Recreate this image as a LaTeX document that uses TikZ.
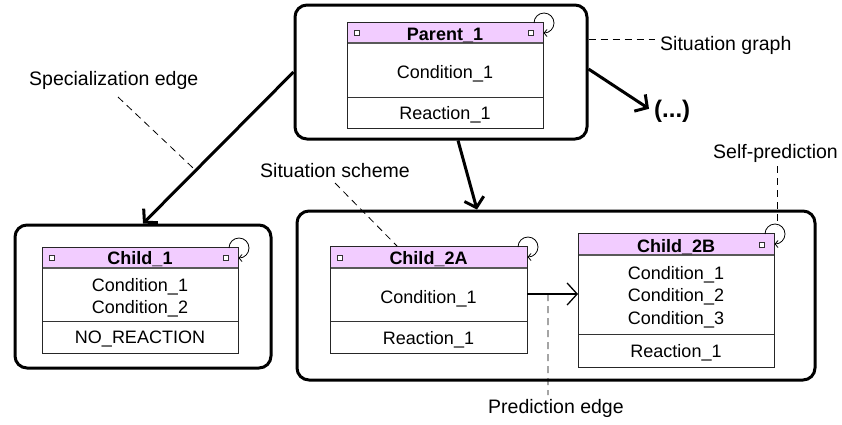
\documentclass[tikz,border=0pt]{standalone}
\usepackage{fontspec}
\setmainfont{Liberation Sans}
\usetikzlibrary{arrows.meta,fit}

\definecolor{headpink}{RGB}{242,204,255}

% one situation scheme: name, left, top, right, bottom, header bottom, divider
\newcommand\schemebox[7]{%
  \fill[headpink] (#2,#3) rectangle (#4,#6);
  \draw[headrule] (#2,#6) -- (#4,#6);
  \draw[secrule] (#2,#7) -- (#4,#7);
  \node[schemeframe, fit={(#2,#3) (#4,#5)}] (#1) {};
}

\tikzset{
  outerbox/.style={draw, line width=3pt, rounded corners=12pt, inner sep=0pt},
  schemeframe/.style={draw=black!85, line width=0.9pt, inner sep=0pt, outer sep=0pt},
  headrule/.style={draw=black!65, line width=1.3pt},
  secrule/.style={draw=black!80, line width=0.9pt},
  port/.style={draw=black!80, fill=white, line width=0.7pt, minimum size=4.5pt, inner sep=0pt},
  bigarrow/.style={line width=3pt, -{Straight Barb[length=9pt,width=20pt]}},
  predarrow/.style={line width=1.3pt, -{Straight Barb[length=10pt,width=22pt]}},
  loopline/.style={line width=0.8pt, -{Straight Barb[length=3pt,width=7pt]}},
  leader/.style={line width=0.8pt, dash pattern=on 7pt off 5pt},
  stxt/.style={anchor=base, inner sep=0pt, font=\fontsize{18}{22}\selectfont},
  shead/.style={stxt, font=\fontsize{18}{22}\selectfont\bfseries},
  ltxt/.style={anchor=base west, inner sep=0pt, font=\fontsize{19.5}{23}\selectfont},
  selfloop/.pic={\draw[loopline] (-9,1) .. controls (-9,-4.5) and (-4.5,-9) .. (1,-9)
      .. controls (6.5,-9) and (11,-4.5) .. (11,1)
      .. controls (11,6.5) and (6.5,11) .. (0.5,11);}
}

\begin{document}
\begin{tikzpicture}[x=1pt, y=-1pt]
\useasboundingbox (0,0) rectangle (842,424);

% ---- outer situation-graph containers ----
\node[outerbox, minimum width=292pt, minimum height=134pt] (parent) at (441,72) {};
\node[outerbox, minimum width=256pt, minimum height=143pt] (child1) at (143,296.5) {};
\node[outerbox, minimum width=518pt, minimum height=169pt] (child2) at (556,295.5) {};

% ---- Parent_1 ----
\schemebox{sParent}{347}{22}{543}{128}{43}{97}
\node[port] (pPl) at (357,33) {};
\node[port] (pPr) at (531,33) {};
\node[shead] (tParent) at (445,40) {Parent\_1};
\node[stxt] (tPc1) at (445,78.5) {Condition\_1};
\node[stxt] (tPr1) at (445,119.5) {Reaction\_1};
\pic at (543,22) {selfloop};

% ---- Child_1 ----
\schemebox{sChild1}{42}{247}{238}{353}{268}{321}
\node[port] (pC1l) at (52,258) {};
\node[port] (pC1r) at (226,258) {};
\node[shead] (tChild1) at (140,264) {Child\_1};
\node[stxt] (tC1c1) at (140,291) {Condition\_1};
\node[stxt] (tC1c2) at (140,313.5) {Condition\_2};
\node[stxt] (tC1r) at (140,343.5) {NO\_REACTION};
\pic at (238,247) {selfloop};

% ---- Child_2A ----
\schemebox{sChild2A}{330}{246}{527}{353}{268}{321}
\node[port] (pC2Al) at (340,258) {};
\node[shead] (tChild2A) at (428.5,264.5) {Child\_2A};
\node[stxt] (tC2Ac1) at (428.5,303) {Condition\_1};
\node[stxt] (tC2Ar) at (428.5,344) {Reaction\_1};
\pic at (527,246) {selfloop};

% ---- Child_2B ----
\schemebox{sChild2B}{578}{233}{774}{367}{255}{334}
\node[port] (pC2Br) at (762,245) {};
\node[shead] (tChild2B) at (676,252) {Child\_2B};
\node[stxt] (tC2Bc1) at (676,279) {Condition\_1};
\node[stxt] (tC2Bc2) at (676,301.5) {Condition\_2};
\node[stxt] (tC2Bc3) at (676,324) {Condition\_3};
\node[stxt] (tC2Br) at (676,357) {Reaction\_1};
\pic at (774,233) {selfloop};

% ---- specialization edges ----
\draw[bigarrow] (parent.west) -- coordinate[pos=0.65] (specmid) (child1.north);
\draw[bigarrow] ([xshift=17pt]parent.south) -- ([xshift=-79pt]child2.north);
\node[anchor=base west, inner sep=0pt, font=\fontsize{24}{28}\selectfont\bfseries] (more) at (654,117) {(...)};
\draw[bigarrow] ([yshift=3pt]parent.east) -- ([xshift=-5pt,yshift=2pt]more.west);

% ---- prediction edge ----
\coordinate (predrow) at (0,294);
\draw[predarrow] (sChild2A.east |- predrow) -- coordinate[pos=0.41] (predmid) (sChild2B.west |- predrow);

% ---- annotations ----
\node[ltxt] (lGraph) at (660,50) {Situation graph};
\coordinate (graphtip) at (655,39);
\draw[leader] (parent.east |- graphtip) -- (graphtip);

\node[ltxt] (lSpec) at (29,85) {Specialization edge};
\coordinate (spectip) at (118,97);
\draw[leader] (spectip) -- (specmid);

\node[ltxt] (lScheme) at (260,177) {Situation scheme};
\coordinate (schemetip) at (335,183);
\coordinate (schemeend) at (397,246);
\draw[leader] (schemetip) -- (schemeend);

\node[ltxt] (lSelf) at (713,158) {Self-prediction};
\coordinate (selftip) at (777,166);
\coordinate (selfend) at (777,226);
\draw[leader] (selftip) -- (selfend);

\node[ltxt] (lPred) at (488,413) {Prediction edge};
\coordinate (predtip) at (548,395);
\draw[leader] (predmid) -- (predtip);
\end{tikzpicture}
\end{document}
